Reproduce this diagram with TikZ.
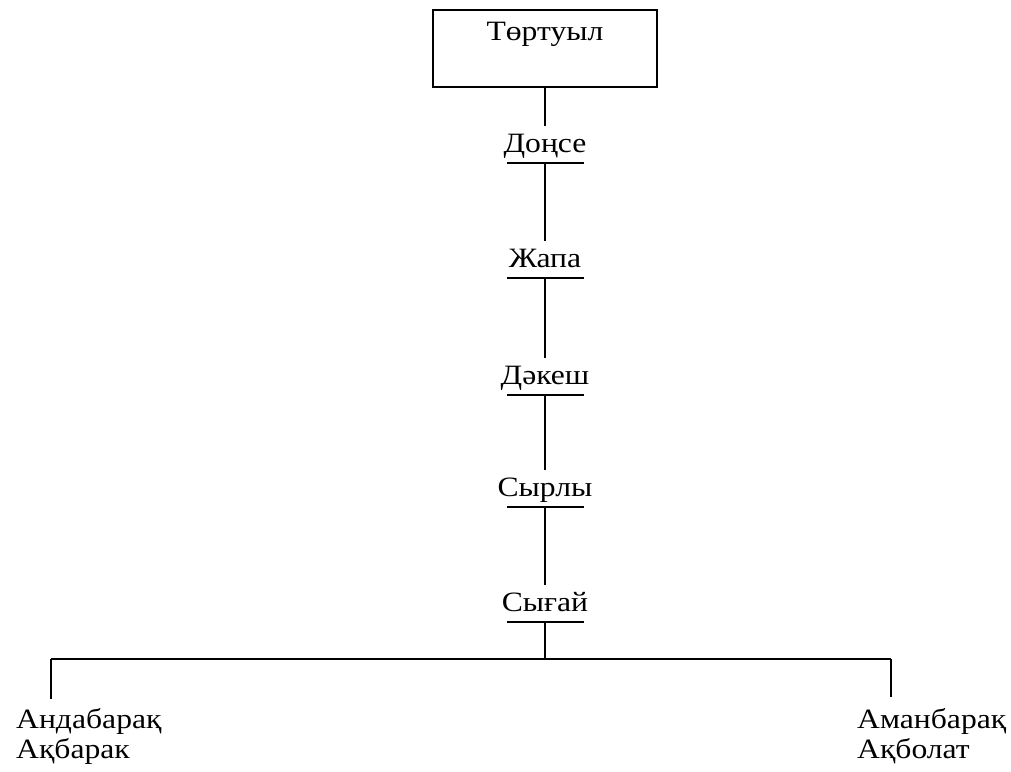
\documentclass[tikz,border=0pt]{standalone}
\usepackage{fontspec}
\setmainfont[FakeStretch=1.13]{Liberation Serif}
\begin{document}
\begin{tikzpicture}[x=1pt,y=-1pt,
  conn/.style={line width=2pt},
  gen/.style={font=\fontsize{28}{30}\selectfont, inner sep=0pt, text height=26pt, text depth=11pt},
  root/.style={draw, line width=2pt, font=\fontsize{28}{30}\selectfont, inner sep=0pt, minimum width=224pt, minimum height=77pt, text height=20pt, text depth=37pt},
  leaf/.style={font=\fontsize{28}{30}\selectfont, inner sep=0pt, align=left, anchor=north west}
]
\useasboundingbox (0,0) rectangle (1011,771);
\node[root] (t) at (545,48.5) {Төртуыл};
\node[gen,anchor=base] (d1) at (545,152) {Доңсе};
\node[gen,anchor=base] (d2) at (545,267) {Жапа};
\node[gen,anchor=base] (d3) at (545,384) {Дәкеш};
\node[gen,anchor=base] (d4) at (545,496) {Сырлы};
\node[gen,anchor=base] (d5) at (545,611) {Сығай};
\foreach \n in {d1,d2,d3,d4,d5} \draw[conn] (\n.south) ++(-38,0) -- ++(77,0);
\draw[conn] (t.south) -- (d1.north);
\draw[conn] (d1.south) -- (d2.north);
\draw[conn] (d2.south) -- (d3.north);
\draw[conn] (d3.south) -- (d4.north);
\draw[conn] (d4.south) -- (d5.north);
\coordinate (bl) at (51,659);
\coordinate (br) at (891,659);
\coordinate (bm) at (d5.south |- bl);
\draw[conn] (d5.south) -- (bm);
\draw[conn] (bl) -- (br);
\node[leaf] (l) at (16,708) {Андабарақ\\Ақбарак};
\node[leaf] (r) at (857,708) {Аманбарақ\\Ақболат};
\coordinate (le) at (51,699);
\coordinate (re) at (891,697);
\draw[conn] (bl) -- (le);
\draw[conn] (br) -- (re);
\end{tikzpicture}
\end{document}
